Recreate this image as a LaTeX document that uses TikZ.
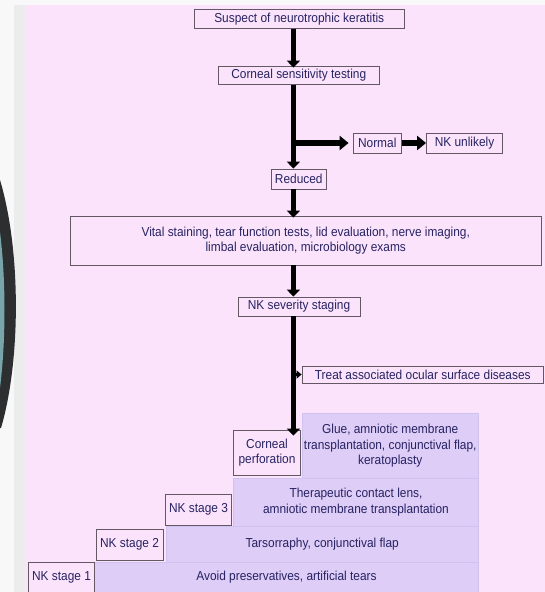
\documentclass[tikz,border=0pt]{standalone}
\usepackage{fontspec}
\setmainfont{Liberation Sans}[FakeStretch=0.915]
\usetikzlibrary{arrows.meta,calc}
\definecolor{bgpink}{RGB}{251,228,251}
\definecolor{lav}{RGB}{222,205,247}
\definecolor{lavline}{RGB}{208,194,238}
\definecolor{lbl}{RGB}{100,88,100}
\definecolor{txt}{RGB}{38,34,98}
\definecolor{stripA}{RGB}{248,248,248}
\definecolor{stripB}{RGB}{236,236,236}
\definecolor{darkarc}{RGB}{44,46,48}
\definecolor{tealarc}{RGB}{120,165,170}
\begin{document}
\begin{tikzpicture}[x=1pt,y=-1pt,
 every node/.style={font=\fontsize{13}{15.5}\selectfont, text=txt, inner sep=0pt, align=center},
 lbox/.style={draw=lbl, fill=bgpink, line width=0.8pt},
 pbox/.style={draw=lavline, fill=lav, line width=0.8pt},
 flow/.style={line width=5.2pt, -{Triangle[width=13pt,length=7pt]}},
 hflow/.style={line width=6pt, -{Triangle[width=14pt,length=9pt]}},
 sflow/.style={line width=3pt, -{Triangle[width=8pt,length=5pt]}},
]
\useasboundingbox (0,0) rectangle (545,592);
\clip (0,0) rectangle (545,592);
% page background
\fill[stripA] (0,0) rectangle (545,592);
\fill[stripB] (14,5) rectangle (25,592);
\fill[bgpink] (25,5) rectangle (545,592);
% dark arc at left edge
\fill[darkarc] (0,180) .. controls (21,250) and (21,360) .. (1,428) -- (0,428) -- cycle;
\fill[tealarc] (0,232) .. controls (6,280) and (6,340) .. (0,388) -- cycle;

\coordinate (sp) at (293.4,0);

% flow boxes
\node[lbox, minimum width=210.5pt, minimum height=19.5pt] (s1) at (299.25,18.75) {Suspect of neurotrophic keratitis};
\node[lbox, minimum width=161.5pt, minimum height=18.5pt] (s2) at (298.75,75.25) {Corneal sensitivity testing};
\node[lbox, minimum width=48.5pt, minimum height=20pt] (nrm) at (377.25,143) {Normal};
\node[lbox, minimum width=76pt, minimum height=20pt] (nku) at (464.5,143) {NK unlikely};
\node[lbox, minimum width=55.5pt, minimum height=20pt] (red) at (298.75,179) {Reduced};
\node[lbox, minimum width=470.5pt, minimum height=49pt] (vit) at (305.75,240.5) {Vital staining, tear function tests, lid evaluation, nerve imaging,\\limbal evaluation, microbiology exams};
\node[lbox, minimum width=122pt, minimum height=19pt] (stg) at (299,306.5) {NK severity staging};
\node[lbox, minimum width=241.5pt, minimum height=17pt] (trt) at (422.75,374.5) {Treat associated ocular surface diseases};

% treatment ladder
\node[pbox, minimum width=176.5pt, minimum height=65.5pt] (glue) at (390.25,445.75) {Glue, amniotic membrane\\transplantation, conjunctival flap,\\keratoplasty};
\node[pbox, minimum width=245pt, minimum height=47.5pt] (thr) at (356,502.25) {Therapeutic contact lens,\\amniotic membrane transplantation};
\node[pbox, minimum width=312.5pt, minimum height=36pt] (trs) at (322.25,544) {Tarsorraphy, conjunctival flap};
\node[pbox, minimum width=384pt, minimum height=30pt] (avd) at (286.5,577) {Avoid preservatives, artificial tears};

\node[lbox, minimum width=67pt, minimum height=45pt] (perf) at (267,452.5) {Corneal\\perforation};
\node[lbox, minimum width=66pt, minimum height=31pt] (st3) at (198.5,509.5) {NK stage 3};
\node[lbox, minimum width=67pt, minimum height=31pt] (st2) at (129.5,544.5) {NK stage 2};
\node[lbox, minimum width=66pt, minimum height=30pt] (st1) at (61.5,577) {NK stage 1};

% connectors
\draw[flow] (s1.south -| sp) -- ([yshift=-2pt]s2.north -| sp);
\draw[flow] (s2.south -| sp) -- (red.north -| sp);
\draw[hflow] (nrm.west -| sp) -- ([xshift=-4pt]nrm.west);
\draw[hflow] (nrm.east) -- (nku.west);
\draw[flow] (red.south -| sp) -- ([yshift=-2pt]vit.north -| sp);
\draw[flow] (vit.south -| sp) -- (stg.north -| sp);
\draw[flow] (stg.south -| sp) -- ([yshift=-6pt]perf.north -| sp);
\draw[sflow] (trt.west -| sp) -- (trt.west);
\end{tikzpicture}
\end{document}
